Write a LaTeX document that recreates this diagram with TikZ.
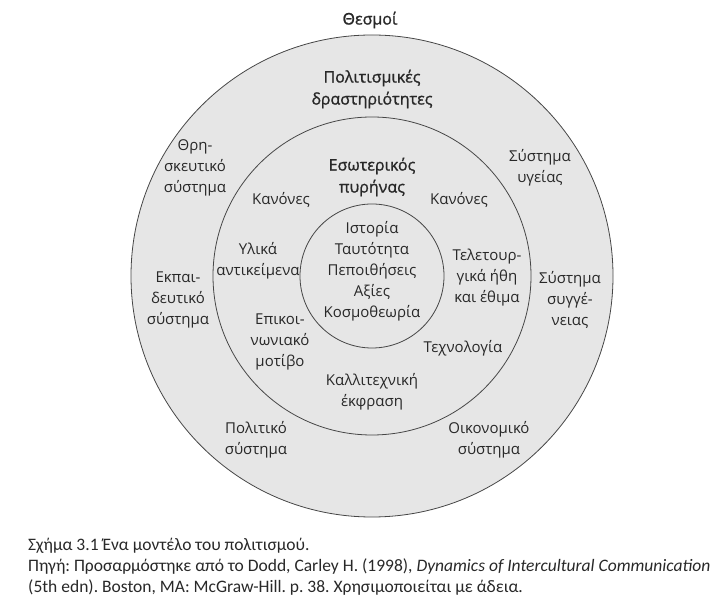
\documentclass[tikz,border=0pt]{standalone}
\usepackage{fontspec}
\setmainfont{Open Sans}
\newfontfamily\headfont[FakeBold=1.2]{Open Sans}
\newfontfamily\capfont{Carlito}
\usetikzlibrary{positioning}
\definecolor{ringgray}{RGB}{230,230,230}
\definecolor{linegray}{RGB}{70,70,70}
\definecolor{inkgray}{RGB}{40,40,40}
\tikzset{
  ring/.style={draw=linegray,fill=ringgray,line width=0.8pt},
  lab/.style={align=center,text=inkgray,font=\fontsize{15}{21}\selectfont,inner sep=0pt},
  head/.style={lab,font=\headfont\fontsize{16}{22}\selectfont},
  captext/.style={anchor=west,text=inkgray,font=\capfont\frenchspacing\fontsize{17.5}{21}\selectfont,inner sep=0pt}
}
\begin{document}
\begin{tikzpicture}[x=1pt,y=1pt]
  \useasboundingbox (0,0) rectangle (726,605);
  \coordinate (c) at (372,329);
  % three circles
  \draw[ring] (c) circle (241);
  \draw[ring] (c) circle (159);
  \draw[ring] (c) circle (72);
  % outer ring
  \node[head] (inst) at (370,585) {Θεσμοί};
  \node[head] (act) at (372,516) {Πολιτισμικές\\δραστηριότητες};
  \node[lab] (relig) at (195,437) {Θρη-\\σκευτικό\\σύστημα};
  \node[lab] (health) at (540,437) {Σύστημα\\υγείας};
  \node[lab] (educ) at (178,305) {Εκπαι-\\δευτικό\\σύστημα};
  \node[lab] (kin) at (570,305) {Σύστημα\\συγγέ-\\νειας};
  \node[lab] (pol) at (256,165) {Πολιτικό\\σύστημα};
  \node[lab] (econ) at (489,165) {Οικονομικό\\σύστημα};
  % middle ring
  \node[head] (core) at (372,428) {Εσωτερικός\\πυρήνας};
  \node[lab] (normsl) at (281,405) {Κανόνες};
  \node[lab] (normsr) at (459,405) {Κανόνες};
  \node[lab] (mat) at (258,344) {Υλικά\\αντικείμενα};
  \node[lab] (rit) at (487,327) {Τελετουρ-\\γικά ήθη\\και έθιμα};
  \node[lab] (comm) at (280,263) {Επικοι-\\νωνιακό\\μοτίβο};
  \node[lab] (tech) at (463,257) {Τεχνολογία};
  \node[lab] (art) at (372,213) {Καλλιτεχνική\\έκφραση};
  % inner circle
  \node[lab] (vals) at (372,334) {Ιστορία\\Ταυτότητα\\Πεποιθήσεις\\Αξίες\\Κοσμοθεωρία};
  % caption
  \node[captext] (cap1) at (28,59) {Σχήμα 3.1 Ένα μοντέλο του πολιτισμού.};
  \node[captext] (cap2) at (28,38) {Πηγή: Προσαρμόστηκε από το Dodd, Carley H. (1998), \textit{Dynamics of Intercultural Communication}};
  \node[captext] (cap3) at (28,17) {(5th edn). Boston, MA: McGraw-Hill. p. 38. Χρησιμοποιείται με άδεια.};
\end{tikzpicture}
\end{document}
